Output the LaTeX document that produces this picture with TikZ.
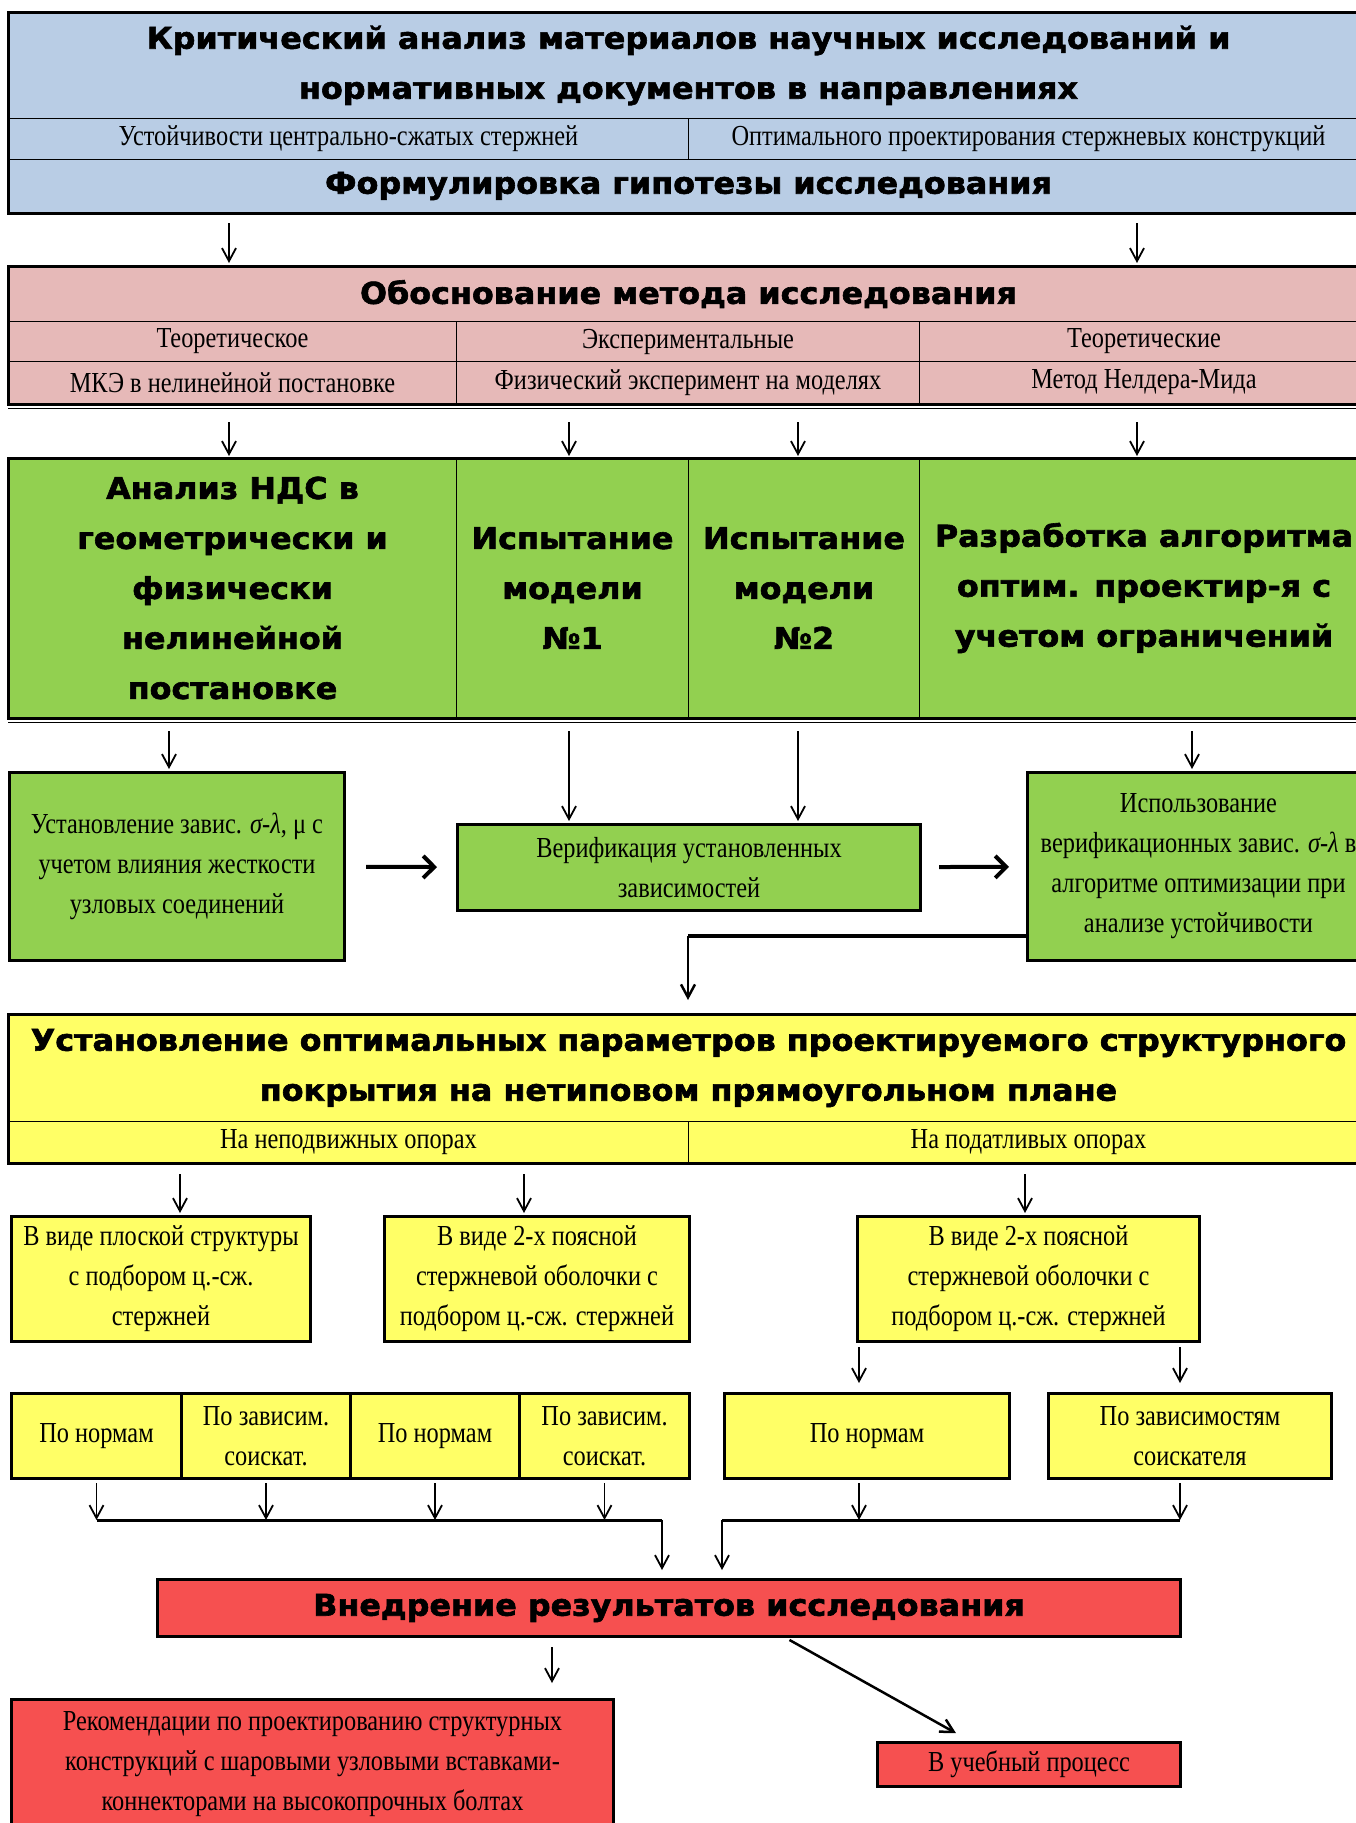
\documentclass[tikz,border=0pt]{standalone}
\usepackage{fontspec}
\setmainfont{Liberation Serif}[FakeStretch=0.84]
\newfontfamily\headfont{DejaVu Sans}[FakeStretch=1.06, FakeBold=2]
\usetikzlibrary{arrows.meta}
\definecolor{bluebg}{RGB}{185,205,229}
\definecolor{pinkbg}{RGB}{230,185,184}
\definecolor{greenbg}{RGB}{146,208,80}
\definecolor{yellowbg}{RGB}{255,255,102}
\definecolor{redbg}{RGB}{246,80,80}
\tikzset{
  cell/.style={draw, line width=1pt, anchor=north west, inner sep=0pt, align=center},
  box/.style={cell, line width=3pt},
  frame/.style={line width=3pt},
  hd/.style={font=\headfont\bfseries\fontsize{30}{50}\selectfont},
  tx/.style={font=\fontsize{29}{40}\selectfont},
  arr/.style={-{Straight Barb[length=13pt,width=14pt]}, line width=1.8pt},
  harr/.style={-{Straight Barb[length=11pt,width=22pt]}, line width=4pt},
}
\begin{document}
\begin{tikzpicture}[x=1pt,y=-1pt]
\useasboundingbox (0,0) rectangle (1356,1823);
\clip (0,0) rectangle (1356,1823);

\node[cell, fill=bluebg, hd, minimum width=1360pt, minimum height=106pt] (crit) at (8,12) {Критический анализ материалов научных исследований и\\нормативных документов в направлениях};
\node[cell, fill=bluebg, tx, minimum width=680pt, minimum height=41pt] (stab) at (8,118) {Устойчивости центрально-сжатых стержней};
\node[cell, fill=bluebg, tx, minimum width=680pt, minimum height=41pt] (optim) at (688,118) {Оптимального проектирования стержневых конструкций};
\node[cell, fill=bluebg, hd, minimum width=1360pt, minimum height=53pt] (hyp) at (8,159) {Формулировка гипотезы исследования};
\draw[frame] (crit.north west) rectangle (hyp.south east);

\node[cell, fill=pinkbg, hd, minimum width=1360pt, minimum height=55pt] (meth) at (8,266) {Обоснование метода исследования};
\node[cell, fill=pinkbg, tx, minimum width=448pt, minimum height=40pt] (theo1) at (8,321) {Теоретическое};
\node[cell, fill=pinkbg, tx, minimum width=463pt, minimum height=40pt] (expr) at (456,321) {Экспериментальные};
\node[cell, fill=pinkbg, tx, minimum width=449pt, minimum height=40pt] (theo2) at (919,321) {Теоретические};
\node[cell, fill=pinkbg, tx, minimum width=448pt, minimum height=42pt] (fem) at (8,361) {МКЭ в нелинейной постановке};
\node[cell, fill=pinkbg, tx, minimum width=463pt, minimum height=42pt] (phys) at (456,361) {Физический эксперимент на моделях};
\node[cell, fill=pinkbg, tx, minimum width=449pt, minimum height=42pt] (nm) at (919,361) {Метод Нелдера-Мида};
\draw[frame] (meth.north west) rectangle (nm.south east);
\draw[line width=1pt] ([yshift=-4pt]fem.south west) -- ([yshift=-4pt]nm.south east);

\node[cell, fill=greenbg, hd, minimum width=448pt, minimum height=259pt] (nds) at (8,458) {Анализ НДС в\\геометрически и\\физически\\нелинейной\\постановке};
\node[cell, fill=greenbg, hd, minimum width=232pt, minimum height=259pt] (mod1) at (456,458) {Испытание\\модели\\№1};
\node[cell, fill=greenbg, hd, minimum width=231pt, minimum height=259pt] (mod2) at (688,458) {Испытание\\модели\\№2};
\node[cell, fill=greenbg, hd, minimum width=449pt, minimum height=259pt] (alg) at (919,458) {Разработка алгоритма\\оптим. проектир-я с\\учетом ограничений};
\draw[frame] (nds.north west) rectangle (alg.south east);
\draw[line width=1pt] ([yshift=-4pt]nds.south west) -- ([yshift=-4pt]alg.south east);

\node[box, fill=greenbg, tx, minimum width=335pt, minimum height=188pt] (dep) at (8,771) {Установление завис. \textit{σ-λ}, μ с\\учетом влияния жесткости\\узловых соединений};
\node[box, fill=greenbg, tx, minimum width=463pt, minimum height=86pt] (verif) at (456,823) {Верификация установленных\\зависимостей};
\node[box, fill=greenbg, tx, minimum width=342pt, minimum height=188pt] (use) at (1026,771) {Использование\\верификационных завис. \textit{σ-λ} в\\алгоритме оптимизации при\\анализе устойчивости};

\node[cell, fill=yellowbg, hd, minimum width=1360pt, minimum height=107pt] (opt) at (8,1014) {Установление оптимальных параметров проектируемого структурного\\покрытия на нетиповом прямоугольном плане};
\node[cell, fill=yellowbg, tx, minimum width=680pt, minimum height=41pt] (fix) at (8,1121) {На неподвижных опорах};
\node[cell, fill=yellowbg, tx, minimum width=680pt, minimum height=41pt] (flex) at (688,1121) {На податливых опорах};
\draw[frame] (opt.north west) rectangle (flex.south east);

\node[box, fill=yellowbg, tx, minimum width=299pt, minimum height=125pt] (flat) at (10,1215) {В виде плоской структуры\\с подбором ц.-сж.\\стержней};
\node[box, fill=yellowbg, tx, minimum width=305pt, minimum height=125pt] (shell1) at (383,1215) {В виде 2-х поясной\\стержневой оболочки с\\подбором ц.-сж. стержней};
\node[box, fill=yellowbg, tx, minimum width=342pt, minimum height=125pt] (shell2) at (856,1215) {В виде 2-х поясной\\стержневой оболочки с\\подбором ц.-сж. стержней};

\node[box, fill=yellowbg, tx, minimum width=170pt, minimum height=85pt] (n1) at (10,1392) {По нормам};
\node[box, fill=yellowbg, tx, minimum width=169pt, minimum height=85pt] (s1) at (180,1392) {По зависим.\\соискат.};
\node[box, fill=yellowbg, tx, minimum width=169pt, minimum height=85pt] (n2) at (349,1392) {По нормам};
\node[box, fill=yellowbg, tx, minimum width=170pt, minimum height=85pt] (s2) at (518,1392) {По зависим.\\соискат.};
\node[box, fill=yellowbg, tx, minimum width=285pt, minimum height=85pt] (n3) at (723,1392) {По нормам};
\node[box, fill=yellowbg, tx, minimum width=283pt, minimum height=85pt] (s3) at (1047,1392) {По зависимостям\\соискателя};

\node[box, fill=redbg, hd, minimum width=1023pt, minimum height=57pt] (impl) at (156,1578) {Внедрение результатов исследования};
\node[box, fill=redbg, tx, minimum width=602pt, minimum height=130pt] (rec) at (10,1698) {Рекомендации по проектированию структурных\\конструкций с шаровыми узловыми вставками-\\коннекторами на высокопрочных болтах};
\node[box, fill=redbg, tx, minimum width=303pt, minimum height=44pt] (edu) at (876,1741) {В учебный процесс};

\coordinate (ka) at (229,0);
\coordinate (kb) at (1137,0);
\coordinate (kc) at (569,0);
\coordinate (kd) at (798,0);
\coordinate (ke) at (169,0);
\coordinate (kf) at (1192,0);
\coordinate (kg) at (180,0);
\coordinate (kh) at (524,0);
\coordinate (ki) at (1025,0);
\coordinate (kj) at (859,0);
\coordinate (kk) at (1180,0);
\coordinate (kl) at (552,0);
\coordinate (eb) at (688,936);
\coordinate (busL) at (662,1520);
\coordinate (busR) at (722,1520);
\coordinate (d1) at (786,0);
\coordinate (d2) at (970,0);

\draw[arr, shorten <=10pt, shorten >=3pt] (hyp.south -| ka) -- (meth.north -| ka);
\draw[arr, shorten <=10pt, shorten >=3pt] (hyp.south -| kb) -- (meth.north -| kb);
\draw[arr, shorten <=18pt, shorten >=2pt] (fem.south -| ka) -- (nds.north -| ka);
\draw[arr, shorten <=18pt, shorten >=2pt] (phys.south -| kc) -- (mod1.north -| kc);
\draw[arr, shorten <=18pt, shorten >=2pt] (phys.south -| kd) -- (mod2.north -| kd);
\draw[arr, shorten <=18pt, shorten >=2pt] (nm.south -| kb) -- (alg.north -| kb);
\draw[arr, shorten <=13pt, shorten >=2pt] (nds.south -| ke) -- (dep.north -| ke);
\draw[arr, shorten <=13pt, shorten >=2pt] (mod1.south -| kc) -- (verif.north -| kc);
\draw[arr, shorten <=13pt, shorten >=2pt] (mod2.south -| kd) -- (verif.north -| kd);
\draw[arr, shorten <=13pt, shorten >=2pt] (alg.south -| kf) -- (use.north -| kf);
\draw[harr, shorten <=20pt, shorten >=19pt] (dep) -- (verif);
\draw[harr, shorten <=17pt, shorten >=17pt] (verif) -- (use);
\draw[line width=3.5pt] (use.west |- eb) -- (eb);
\draw[arr, line width=2.5pt, shorten >=14pt] (eb) -- (eb |- opt.north);

\draw[arr, shorten <=11pt, shorten >=2pt] (fix.south -| kg) -- (flat.north -| kg);
\draw[arr, shorten <=11pt, shorten >=2pt] (fix.south -| kh) -- (shell1.north -| kh);
\draw[arr, shorten <=11pt, shorten >=2pt] (flex.south -| ki) -- (shell2.north -| ki);
\draw[arr, shorten <=4pt, shorten >=9pt] (shell2.south -| kj) -- (n3.north -| kj);
\draw[arr, shorten <=4pt, shorten >=9pt] (shell2.south -| kk) -- (s3.north -| kk);

\draw[arr, shorten <=3pt] (n1.south) -- (n1.south |- busL);
\draw[arr, shorten <=3pt] (s1.south) -- (s1.south |- busL);
\draw[arr, shorten <=3pt] (n2.south) -- (n2.south |- busL);
\draw[arr, shorten <=3pt] (s2.south) -- (s2.south |- busL);
\draw[arr, shorten <=3pt] (n3.south -| kj) -- (busR -| kj);
\draw[arr, shorten <=3pt] (s3.south -| kk) -- (busR -| kk);
\draw[line width=3pt] (n1.south |- busL) -- (busL);
\draw[line width=3pt] (busR) -- (busR -| kk);
\draw[arr, shorten >=8pt] (busL) -- (impl.north -| busL);
\draw[arr, shorten >=8pt] (busR) -- (impl.north -| busR);

\draw[arr, shorten <=9pt, shorten >=15pt] (impl.south -| kl) -- (rec.north -| kl);
\draw[arr, line width=2.5pt, shorten <=4pt, shorten >=16pt] (impl.south -| d1) -- (edu.north -| d2);
\end{tikzpicture}
\end{document}
